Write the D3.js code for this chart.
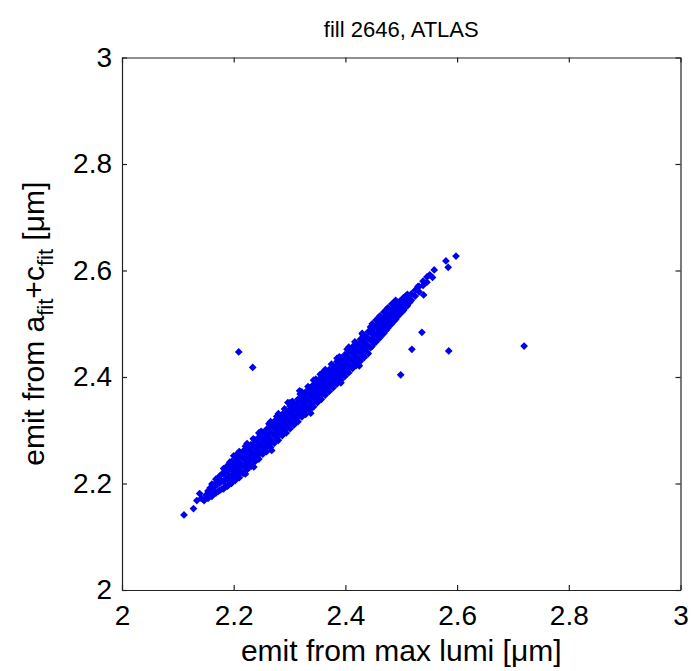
<!DOCTYPE html>
<html>
<head>
<meta charset="utf-8">
<script src="https://cdn.jsdelivr.net/npm/d3@7"></script>
<style>
  body { margin: 0; background: #fff; }
  text { font-family: "Liberation Sans", Arial, sans-serif; fill: #000; }
</style>
</head>
<body>
<div id="chart"></div>
<script>
// emittance from max lumi (x) vs emittance from a_fit + c_fit (y), in um
const lowerTail = [
    [2.111, 2.141], [2.128, 2.153], [2.134, 2.168], [2.142, 2.172],
    [2.139, 2.181], [2.147, 2.168], [2.150, 2.178]
];

const band = [
    [2.154, 2.172], [2.154, 2.186],
    [2.161, 2.176], [2.161, 2.190], [2.161, 2.199],
    [2.168, 2.182], [2.168, 2.196], [2.168, 2.208],
    [2.175, 2.187], [2.175, 2.201], [2.175, 2.214],
    [2.182, 2.190], [2.182, 2.204], [2.182, 2.218], [2.182, 2.228],
    [2.189, 2.195], [2.189, 2.209], [2.189, 2.223], [2.189, 2.234],
    [2.196, 2.200], [2.196, 2.214], [2.196, 2.228], [2.196, 2.241],
    [2.203, 2.206], [2.203, 2.220], [2.203, 2.234], [2.203, 2.248],
    [2.210, 2.211], [2.210, 2.225], [2.210, 2.239], [2.210, 2.253], [2.210, 2.260],
    [2.217, 2.219], [2.217, 2.233], [2.217, 2.247], [2.217, 2.261],
    [2.224, 2.226], [2.224, 2.239], [2.224, 2.252], [2.224, 2.266], [2.224, 2.275],
    [2.231, 2.232], [2.231, 2.246], [2.231, 2.260], [2.231, 2.273],
    [2.238, 2.241], [2.238, 2.254], [2.238, 2.268], [2.238, 2.282],
    [2.245, 2.246], [2.245, 2.259], [2.245, 2.273], [2.245, 2.287], [2.245, 2.295],
    [2.252, 2.255], [2.252, 2.268], [2.252, 2.282], [2.252, 2.296],
    [2.259, 2.260], [2.259, 2.274], [2.259, 2.288], [2.259, 2.302],
    [2.266, 2.268], [2.266, 2.281], [2.266, 2.295], [2.266, 2.309], [2.266, 2.316],
    [2.273, 2.276], [2.273, 2.290], [2.273, 2.304], [2.273, 2.317],
    [2.280, 2.281], [2.280, 2.295], [2.280, 2.309], [2.280, 2.323], [2.280, 2.331],
    [2.287, 2.290], [2.287, 2.303], [2.287, 2.317], [2.287, 2.330],
    [2.294, 2.295], [2.294, 2.309], [2.294, 2.323], [2.294, 2.337],
    [2.301, 2.303], [2.301, 2.317], [2.301, 2.331], [2.301, 2.345], [2.301, 2.352],
    [2.308, 2.310], [2.308, 2.324], [2.308, 2.338], [2.308, 2.351],
    [2.315, 2.316], [2.315, 2.330], [2.315, 2.344], [2.315, 2.358],
    [2.322, 2.325], [2.322, 2.338], [2.322, 2.352], [2.322, 2.366], [2.322, 2.372],
    [2.329, 2.330], [2.329, 2.344], [2.329, 2.358], [2.329, 2.372],
    [2.336, 2.338], [2.336, 2.352], [2.336, 2.366], [2.336, 2.380],
    [2.343, 2.344], [2.343, 2.358], [2.343, 2.372], [2.343, 2.386], [2.343, 2.394],
    [2.350, 2.352], [2.350, 2.366], [2.350, 2.380], [2.350, 2.393],
    [2.357, 2.358], [2.357, 2.372], [2.357, 2.386], [2.357, 2.400],
    [2.364, 2.366], [2.364, 2.380], [2.364, 2.394], [2.364, 2.408], [2.364, 2.414],
    [2.371, 2.373], [2.371, 2.387], [2.371, 2.401], [2.371, 2.414],
    [2.378, 2.380], [2.378, 2.394], [2.378, 2.408], [2.378, 2.421],
    [2.385, 2.387], [2.385, 2.401], [2.385, 2.415], [2.385, 2.429], [2.385, 2.435],
    [2.392, 2.394], [2.392, 2.408], [2.392, 2.422], [2.392, 2.436],
    [2.399, 2.401], [2.399, 2.415], [2.399, 2.429], [2.399, 2.442],
    [2.406, 2.408], [2.406, 2.422], [2.406, 2.436], [2.406, 2.450], [2.406, 2.456],
    [2.413, 2.416], [2.413, 2.430], [2.413, 2.444], [2.413, 2.457],
    [2.420, 2.422], [2.420, 2.436], [2.420, 2.450], [2.420, 2.463],
    [2.427, 2.430], [2.427, 2.444], [2.427, 2.458], [2.427, 2.471],
    [2.434, 2.437], [2.434, 2.451], [2.434, 2.465], [2.434, 2.478],
    [2.441, 2.444], [2.441, 2.458], [2.441, 2.472], [2.441, 2.485],
    [2.448, 2.458], [2.448, 2.472], [2.448, 2.486], [2.448, 2.500],
    [2.455, 2.466], [2.455, 2.480], [2.455, 2.494], [2.455, 2.507],
    [2.462, 2.474], [2.462, 2.488], [2.462, 2.502], [2.462, 2.515],
    [2.469, 2.482], [2.469, 2.496], [2.469, 2.510], [2.469, 2.522],
    [2.476, 2.492], [2.476, 2.505], [2.476, 2.518], [2.476, 2.530],
    [2.483, 2.500], [2.483, 2.513], [2.483, 2.526], [2.483, 2.537],
    [2.490, 2.508], [2.490, 2.521], [2.490, 2.534], [2.490, 2.544],
    [2.497, 2.518], [2.497, 2.530], [2.497, 2.542],
    [2.504, 2.525], [2.504, 2.537], [2.504, 2.549],
    [2.511, 2.534], [2.511, 2.546], [2.511, 2.555],
    [2.518, 2.544], [2.518, 2.556],
    [2.525, 2.552], [2.525, 2.563],
    [2.532, 2.560], [2.532, 2.570],
    [2.539, 2.572], [2.539, 2.580],
    [2.546, 2.578], [2.546, 2.588]
];

// points lying between the columns above
const bandMid = [
    [2.158, 2.179], [2.158, 2.192],
    [2.165, 2.185], [2.165, 2.198],
    [2.172, 2.185], [2.172, 2.199], [2.172, 2.210],
    [2.179, 2.190], [2.179, 2.204], [2.179, 2.218],
    [2.186, 2.195], [2.186, 2.209], [2.186, 2.223],
    [2.193, 2.201], [2.193, 2.215], [2.193, 2.229], [2.193, 2.240],
    [2.200, 2.208], [2.200, 2.222], [2.200, 2.236],
    [2.207, 2.215], [2.207, 2.229], [2.207, 2.243], [2.207, 2.256],
    [2.214, 2.222], [2.214, 2.236], [2.214, 2.250],
    [2.221, 2.218], [2.221, 2.230], [2.221, 2.244], [2.221, 2.258], [2.221, 2.270],
    [2.228, 2.237], [2.228, 2.251], [2.228, 2.265],
    [2.235, 2.244], [2.235, 2.258], [2.235, 2.272], [2.235, 2.284],
    [2.242, 2.251], [2.242, 2.265], [2.242, 2.279],
    [2.249, 2.258], [2.249, 2.272], [2.249, 2.286], [2.249, 2.298],
    [2.256, 2.265], [2.256, 2.279], [2.256, 2.293],
    [2.263, 2.272], [2.263, 2.286], [2.263, 2.300], [2.263, 2.312],
    [2.270, 2.279], [2.270, 2.293], [2.270, 2.307],
    [2.277, 2.286], [2.277, 2.300], [2.277, 2.314], [2.277, 2.326],
    [2.284, 2.293], [2.284, 2.307], [2.284, 2.321],
    [2.291, 2.300], [2.291, 2.314], [2.291, 2.328], [2.291, 2.340],
    [2.298, 2.307], [2.298, 2.321], [2.298, 2.335],
    [2.305, 2.314], [2.305, 2.328], [2.305, 2.342], [2.305, 2.354],
    [2.312, 2.321], [2.312, 2.335], [2.312, 2.349],
    [2.319, 2.328], [2.319, 2.342], [2.319, 2.356], [2.319, 2.368],
    [2.326, 2.335], [2.326, 2.349], [2.326, 2.363],
    [2.333, 2.342], [2.333, 2.356], [2.333, 2.370], [2.333, 2.382],
    [2.340, 2.349], [2.340, 2.363], [2.340, 2.377],
    [2.347, 2.356], [2.347, 2.370], [2.347, 2.384], [2.347, 2.396],
    [2.354, 2.363], [2.354, 2.377], [2.354, 2.391],
    [2.361, 2.370], [2.361, 2.384], [2.361, 2.398], [2.361, 2.410],
    [2.368, 2.377], [2.368, 2.391], [2.368, 2.405],
    [2.375, 2.384], [2.375, 2.398], [2.375, 2.412], [2.375, 2.424],
    [2.382, 2.391], [2.382, 2.405], [2.382, 2.419],
    [2.389, 2.398], [2.389, 2.412], [2.389, 2.426], [2.389, 2.438],
    [2.396, 2.405], [2.396, 2.419], [2.396, 2.433],
    [2.403, 2.412], [2.403, 2.426], [2.403, 2.440], [2.403, 2.452],
    [2.410, 2.419], [2.410, 2.433], [2.410, 2.447],
    [2.417, 2.426], [2.417, 2.440], [2.417, 2.454], [2.417, 2.466],
    [2.424, 2.433], [2.424, 2.447], [2.424, 2.461],
    [2.431, 2.440], [2.431, 2.454], [2.431, 2.468], [2.431, 2.480],
    [2.438, 2.447], [2.438, 2.461], [2.438, 2.475],
    [2.445, 2.455], [2.445, 2.469], [2.445, 2.483], [2.445, 2.494],
    [2.452, 2.465], [2.452, 2.479], [2.452, 2.493],
    [2.459, 2.472], [2.459, 2.486], [2.459, 2.500], [2.459, 2.511],
    [2.466, 2.480], [2.466, 2.494], [2.466, 2.508],
    [2.473, 2.488], [2.473, 2.502], [2.473, 2.516], [2.473, 2.526],
    [2.480, 2.497], [2.480, 2.510], [2.480, 2.523],
    [2.487, 2.505], [2.487, 2.518], [2.487, 2.531], [2.487, 2.540],
    [2.494, 2.514], [2.494, 2.526], [2.494, 2.538],
    [2.501, 2.522], [2.501, 2.534], [2.501, 2.545],
    [2.508, 2.531], [2.508, 2.542], [2.508, 2.552],
    [2.515, 2.540], [2.515, 2.551]
];

// rough bumps along the edges of the band
const bandEdges = [
    [2.236, 2.231], [2.297, 2.352], [2.355, 2.405], [2.392, 2.389],
    [2.430, 2.482], [2.268, 2.262], [2.318, 2.374], [2.425, 2.421],
    [2.200, 2.252], [2.338, 2.332]
];

const upperTail = [
    [2.540, 2.554], [2.530, 2.570], [2.551, 2.592], [2.556, 2.587],
    [2.559, 2.601], [2.580, 2.618], [2.584, 2.606], [2.598, 2.627]
];

const outliers = [
    [2.209, 2.447], [2.234, 2.418], [2.537, 2.484], [2.519, 2.452],
    [2.585, 2.449], [2.499, 2.404], [2.720, 2.458]
];

const xTicks = [2, 2.2, 2.4, 2.6, 2.8, 3];
const yTicks = [2, 2.2, 2.4, 2.6, 2.8, 3];
const xTickLabels = ["2", "2.2", "2.4", "2.6", "2.8", "3"];
const yTickLabels = ["2", "2.2", "2.4", "2.6", "2.8", "3"];

const width = 691, height = 671;
const plotLeft = 122, plotRight = 680.5, plotTop = 57.5, plotBottom = 590;

const svg = d3.select("#chart").append("svg")
    .attr("width", width)
    .attr("height", height);

const x = d3.scaleLinear().domain([2, 3]).range([plotLeft, plotRight]);
const y = d3.scaleLinear().domain([2, 3]).range([plotBottom, plotTop]);

// points first, frame on top
const points = [...lowerTail, ...band, ...bandMid, ...bandEdges, ...upperTail, ...outliers];
const marker = d3.symbol().type(d3.symbolSquare).size(30);

svg.append("g").selectAll("path")
    .data(points)
    .join("path")
    .attr("d", marker)
    .attr("transform", d => `translate(${x(d[0])},${y(d[1])}) rotate(45)`)
    .attr("fill", "#0000f0");

// inward ticks on all four sides
function styleAxis(g) {
    g.select(".domain").attr("stroke", "#222").attr("stroke-width", 1.2);
    g.selectAll(".tick line").attr("stroke", "#222").attr("stroke-width", 1.2);
    g.selectAll("text")
        .style("font-family", "'Liberation Sans', Arial, sans-serif")
        .style("font-size", "28px")
        .attr("fill", "#000");
}

const xi = d3.axisBottom(x).tickValues(xTicks).tickSizeInner(-5).tickSizeOuter(0)
    .tickFormat((d, i) => xTickLabels[i]).tickPadding(15);
svg.append("g").attr("transform", `translate(0,${plotBottom})`).call(xi).call(styleAxis);

const yi = d3.axisLeft(y).tickValues(yTicks).tickSizeInner(-5).tickSizeOuter(0)
    .tickFormat((d, i) => yTickLabels[i]).tickPadding(10);
svg.append("g").attr("transform", `translate(${plotLeft},0)`).call(yi).call(styleAxis);

const xt = d3.axisTop(x).tickValues(xTicks).tickSizeInner(-5).tickSizeOuter(0).tickFormat("");
svg.append("g").attr("transform", `translate(0,${plotTop})`).call(xt).call(styleAxis);

const yr = d3.axisRight(y).tickValues(yTicks).tickSizeInner(-5).tickSizeOuter(0).tickFormat("");
svg.append("g").attr("transform", `translate(${plotRight},0)`).call(yr).call(styleAxis);

// title and labels
svg.append("text")
    .attr("x", (plotLeft + plotRight) / 2)
    .attr("y", 37)
    .attr("text-anchor", "middle")
    .style("font-size", "22px")
    .text("fill 2646, ATLAS");

svg.append("text")
    .attr("x", (plotLeft + plotRight) / 2)
    .attr("y", 661)
    .attr("text-anchor", "middle")
    .style("font-size", "30px")
    .text("emit from max lumi [\u03bcm]");

const ylab = svg.append("text")
    .attr("transform", `translate(44,${(plotTop + plotBottom) / 2}) rotate(-90)`)
    .attr("text-anchor", "middle")
    .style("font-size", "30px");
ylab.append("tspan").text("emit from a");
ylab.append("tspan").attr("dy", 9).style("font-size", "22px").text("fit");
ylab.append("tspan").attr("dy", -9).text("+c");
ylab.append("tspan").attr("dy", 9).style("font-size", "22px").text("fit");
ylab.append("tspan").attr("dy", -9).text(" [\u03bcm]");
</script>
</body>
</html>
